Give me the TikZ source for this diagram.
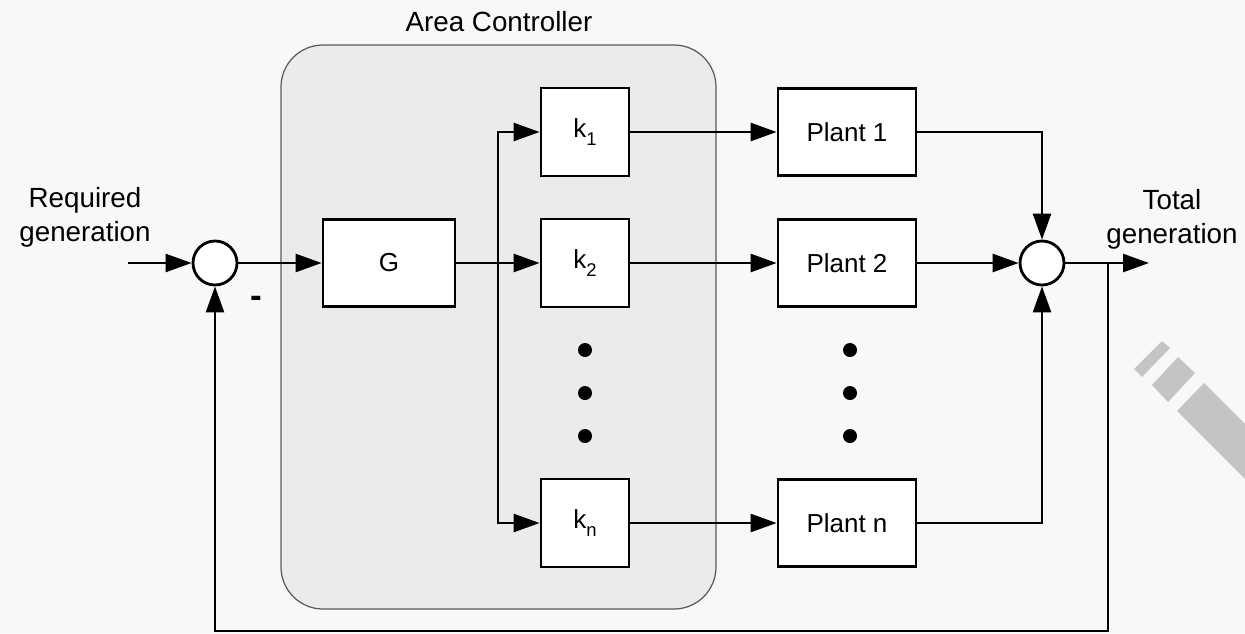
\documentclass[tikz,border=0pt]{standalone}
\usepackage{fontspec}
\setmainfont{Liberation Sans}
\usetikzlibrary{arrows.meta}

\definecolor{paper}{HTML}{F8F8F8}
\definecolor{ctrlfill}{HTML}{EBEBEB}
\definecolor{ctrlline}{HTML}{5A5A5A}
\definecolor{pencil}{HTML}{C4C4C4}

\newcommand{\gain}[1]{k\raisebox{-0.55ex}{\fontsize{10.5pt}{12pt}\selectfont #1}}

\begin{document}
\begin{tikzpicture}[x=0.02cm, y=-0.02cm]
			\tikzset{block/.style = {shape=rectangle, draw, fill=white, line width=1.6pt, font=\fontsize{14.8pt}{17pt}\selectfont}}
			\tikzset{sumnode/.style = {shape=circle, draw, fill=white, line width=1.6pt, minimum size=0.88cm, inner sep=0pt}}
			\tikzset{label/.style = {align=center, font=\fontsize{15.8pt}{19.3pt}\selectfont}}
			\tikzset{edge/.style = {-{Triangle[length=0.52cm, width=0.36cm]}, line width=1.5pt}}
			% page
			\fill[paper] (0,0) rectangle (1245,633);
			\useasboundingbox (0,0) rectangle (1245,633);
			% controller frame
			\draw[fill=ctrlfill, draw=ctrlline, line width=0.7pt, rounded corners=0.84cm] (281,45) rectangle (716,609);
			\node[label] (ctrl) at (499,22) {Area Controller};
			% vertices
			\node[sumnode] (sum) at (215,263) {};
			\node[block, minimum width=2.64cm, minimum height=1.74cm] (G) at (389,263) {G};
			\node[block, minimum width=1.76cm, minimum height=1.76cm] (k1) at (585,132) {\gain{1}};
			\node[block, minimum width=1.76cm, minimum height=1.76cm] (k2) at (585,263) {\gain{2}};
			\node[block, minimum width=1.76cm, minimum height=1.76cm] (kn) at (585,523) {\gain{n}};
			\node[block, minimum width=2.76cm, minimum height=1.74cm] (p1) at (847,132) {Plant 1};
			\node[block, minimum width=2.76cm, minimum height=1.74cm] (p2) at (847,263) {Plant 2};
			\node[block, minimum width=2.76cm, minimum height=1.74cm] (pn) at (847,523) {Plant n};
			\node[sumnode] (total) at (1042,263) {};
			% labels
			\node[label] (req) at (85,217) {Required\\generation};
			\node[label] (gen) at (1172,219) {Total\\generation};
			\node[label, font=\fontsize{20pt}{20pt}\selectfont\bfseries] (minus) at (256,302) {-};
			% dots
			\foreach \y in {350,393,436} {
				\fill (585,\y) circle (0.14cm);
				\fill (850,\y) circle (0.14cm);
			}
			% branch points
			\coordinate (in) at (128,263);
			\coordinate (split) at (498,263);
			\coordinate (tap) at (1108,263);
			\coordinate (out) at (1149,263);
			\coordinate (fb) at (215,631);
			% edges
			\draw[edge] (in) -- (sum);
			\draw[edge] (sum) -- (G);
			\draw[edge] (G) -- (k2);
			\draw[edge] (split) |- (k1);
			\draw[edge] (split) |- (kn);
			\draw[edge] (k1) -- (p1);
			\draw[edge] (k2) -- (p2);
			\draw[edge] (kn) -- (pn);
			\draw[edge] (p1) -| (total);
			\draw[edge] (p2) -- (total);
			\draw[edge] (pn) -| (total);
			\draw[edge] (total) -- (out);
			\draw[edge] (tap) |- (fb) -- (sum);
			% pencil mark in the corner
			\begin{scope}
				\clip (0,0) rectangle (1245,633);
				\fill[pencil] (1134,369) -- (1162,341) -- (1170,348) -- (1142,377) -- cycle;
				\fill[pencil] (1152,385) -- (1178,357) -- (1195,373) -- (1168,402) -- cycle;
				\fill[pencil] (1177,411) -- (1204,383) -- (1300,479) -- (1273,507) -- cycle;
			\end{scope}
		\end{tikzpicture}
\end{document}
